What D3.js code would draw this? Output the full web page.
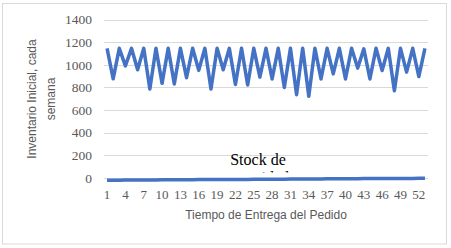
<!DOCTYPE html>
<html><head><meta charset="utf-8">
<script src="https://cdn.jsdelivr.net/npm/d3@7"></script>
<style>body{margin:0;background:#fff}svg{display:block}</style>
</head><body>
<svg id="c" width="451" height="248"></svg>
<script>
const weeks = d3.range(1, 54);
const inventario = [1145,875,1145,990,1145,955,1145,785,1145,835,1145,830,1145,885,1145,950,1145,785,1145,955,1145,825,1145,820,1145,890,1145,874,1145,798,1145,735,1145,720,1145,874,1145,919,1145,874,1145,970,1140,874,1145,949,1145,770,1145,934,1145,895,1145];
const stock = [-22,-22,-22,-21,-21,-21,-20,-20,-20,-19,-19,-19,-18,-18,-18,-17,-17,-17,-16,-16,-16,-15,-15,-15,-14,-14,-14,-13,-13,-13,-12,-12,-12,-11,-11,-11,-10,-10,-10,-9,-9,-9,-8,-8,-8,-7,-7,-7,-6,-6,-6,-5,-5];
const yTicks = [0,200,400,600,800,1000,1200,1400];
const xLabels = weeks.filter(w => (w - 1) % 3 === 0);

const svg = d3.select('#c');
const x = d3.scaleBand().domain(weeks).range([104, 428]).padding(0);
const y = d3.scaleLinear().domain([0, 1400]).range([177.7, 19.5]);
const cx = d => x(d) + x.bandwidth() / 2;

svg.append('rect').attr('x', 2.5).attr('y', 3.5).attr('width', 444).attr('height', 240.5)
  .attr('fill', '#fff').attr('stroke', '#d9d9d9');

// gridlines
svg.append('g').selectAll('line').data(yTicks).join('line')
  .attr('x1', 104).attr('x2', 428)
  .attr('y1', d => Math.round(y(d)) + 0.5).attr('y2', d => Math.round(y(d)) + 0.5)
  .attr('stroke', '#d9d9d9').attr('stroke-width', 1);

// y axis labels
const yAxis = d3.axisLeft(y).tickValues(yTicks).tickFormat(d3.format('d')).tickSize(0).tickPadding(0);
const gy = svg.append('g').attr('transform', 'translate(92,0)').call(yAxis);
gy.select('.domain').remove();
gy.attr('font-family', null);
gy.selectAll('text').attr('font-family', 'Liberation Serif').attr('font-size', 13.5).attr('fill', '#595959');

// x axis labels
const xAxis = d3.axisBottom(x).tickValues(xLabels).tickSize(0).tickPadding(0);
const gx = svg.append('g').attr('transform', 'translate(0,190)').call(xAxis);
gx.select('.domain').remove();
gx.attr('font-family', null);
gx.selectAll('text').attr('font-family', 'Liberation Serif').attr('font-size', 13).attr('fill', '#595959');

const line = d3.line().x((d, i) => cx(weeks[i])).y(d => y(d));
svg.append('path').datum(stock).attr('d', line).attr('fill', 'none')
  .attr('stroke', '#4472c4').attr('stroke-width', 3.5).attr('stroke-linejoin', 'round');
svg.append('path').datum(inventario).attr('d', line).attr('fill', 'none')
  .attr('stroke', '#4472c4').attr('stroke-width', 3.5).attr('stroke-linejoin', 'round');

// label for stock series (clipped second line)
svg.append('clipPath').attr('id', 'lc').append('rect').attr('x', 200).attr('y', 150).attr('width', 120).attr('height', 22.5);
const lbl = svg.append('text').attr('clip-path', 'url(#lc)').attr('text-anchor', 'middle')
  .attr('font-family', 'Liberation Serif').attr('font-size', 16).attr('fill', '#000');
lbl.append('tspan').attr('x', 258).attr('y', 165).text('Stock de');
lbl.append('tspan').attr('x', 258).attr('y', 183).text('seguridad');

// axis titles
svg.append('text').attr('x', 266).attr('y', 218.5).attr('text-anchor', 'middle')
  .attr('font-family', 'Liberation Sans').attr('font-size', 12).attr('fill', '#595959')
  .text('Tiempo de Entrega del Pedido');
const yt = svg.append('text').attr('transform', 'translate(0,99) rotate(-90)').attr('text-anchor', 'middle')
  .attr('font-family', 'Liberation Sans').attr('font-size', 12).attr('fill', '#595959');
yt.append('tspan').attr('x', 0).attr('y', 36).text('Inventario Inicial, cada');
yt.append('tspan').attr('x', 0).attr('y', 55).text('semana');
</script>
</body></html>
